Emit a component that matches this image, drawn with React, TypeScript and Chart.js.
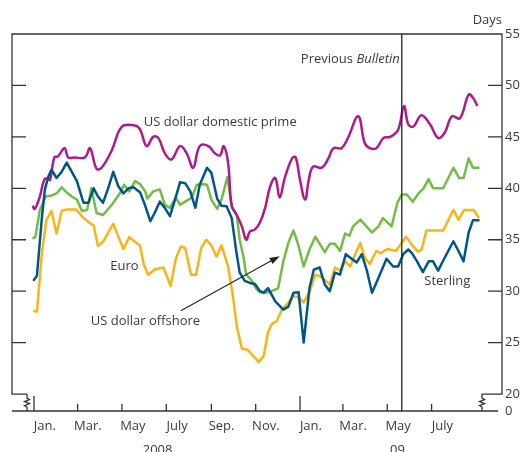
import { useEffect, useRef } from "react";
import { Chart, registerables } from "chart.js";

Chart.register(...registerables);

// x values: days since 1 January 2008
const primeDays = [-2,1,8,14,19,22,28,33,42,47,56,70,77,86,93,107,121,139,146,155,164,171,180,189,201,210,219,228,240,249,256,261,267,272,279,286,292,297,304,311,318,325,332,338,345,355,360,366,373,378,384,396,405,412,423,432,446,455,462,471,481,490,501,509,515,522,533,545,556,565,575,586,598,604,610];
const primeValues = [38.3,38.0,39.2,40.8,41.0,40.8,43.0,43.1,43.9,43.0,43.0,43.0,43.9,41.9,42.0,43.7,46.0,46.1,45.7,44.1,45.0,44.9,43.4,42.8,44.1,43.4,42.0,44.1,44.1,43.4,43.2,44.1,42.5,38.3,37.4,36.3,35.0,35.8,36.0,36.7,38.1,40.2,41.0,39.1,41.0,42.9,43.0,40.8,38.9,40.8,42.1,42.0,42.9,43.9,43.9,44.9,47.0,44.4,43.9,43.9,44.9,45.0,45.7,48.0,46.2,46.0,47.1,46.2,44.9,45.4,47.0,46.8,49.1,48.8,48.0];

const sterlingDays = [-1,4,11,15,20,24,31,38,45,52,59,68,75,82,88,95,102,109,116,123,130,137,146,153,160,166,173,180,187,194,201,208,215,222,228,238,244,252,258,265,272,278,283,290,297,304,311,316,322,332,343,350,357,364,371,379,385,393,400,407,414,421,429,437,444,451,458,465,474,485,494,501,508,515,520,527,535,543,549,556,565,577,584,591,598,604,613];
const sterlingValues = [31.0,31.5,37.3,39.9,41.2,41.8,41.0,41.6,42.5,41.6,40.7,38.6,38.6,40.0,39.2,38.6,40.0,41.6,40.2,39.5,40.0,40.1,39.6,38.3,36.8,37.6,38.7,38.1,37.3,38.9,40.6,40.5,39.7,38.1,40.35,42.0,41.5,39.0,38.3,38.25,37.1,34.0,31.8,31.0,30.8,30.7,30.0,29.85,30.3,29.0,28.2,28.5,29.85,29.9,25.0,30.3,32.1,32.3,30.65,30.0,31.8,31.6,33.6,33.15,32.8,33.6,32.0,29.85,31.3,33.15,32.4,32.4,33.6,34.05,33.7,32.9,31.85,32.9,32.9,32.0,33.25,34.85,33.9,32.9,35.7,36.9,36.9];

const offshoreDays = [-2,2,8,16,24,31,38,45,52,59,66,73,79,86,95,107,118,124,131,139,146,153,156,164,173,180,187,195,201,208,217,224,233,238,244,252,258,266,272,279,283,288,292,300,306,311,318,327,336,343,350,357,364,371,379,387,394,400,407,414,421,428,434,439,449,458,465,474,480,492,500,506,513,521,529,536,543,549,563,577,585,591,598,604,613];
const offshoreValues = [35.1,35.3,37.9,39.2,39.3,39.5,40.1,39.6,39.2,38.9,37.8,37.9,40.0,37.6,37.4,38.4,39.5,40.35,39.7,40.7,40.4,39.7,39.0,39.7,39.9,38.4,38.1,39.1,38.4,38.7,39.1,40.35,40.4,40.35,38.9,38.0,38.9,41.1,38.25,37.4,35.0,33.4,31.6,31.0,30.2,29.9,29.85,30.0,30.3,32.9,34.7,35.9,34.4,32.4,34.05,35.3,34.5,33.8,34.6,34.6,33.9,35.6,35.4,36.3,36.95,36.25,35.7,36.3,37.1,36.3,38.6,39.4,39.4,38.7,39.5,40.0,40.9,40.0,40.0,42.0,41.0,41.0,42.9,42.0,42.0];

const euroDays = [-1,4,11,17,24,31,38,45,58,67,77,82,88,95,102,109,116,123,131,139,146,151,157,166,178,188,195,202,208,216,223,230,237,244,251,258,267,273,279,286,294,303,309,316,322,327,334,341,350,357,364,371,379,387,394,400,407,414,421,428,435,442,449,455,462,471,477,486,493,498,506,512,520,528,533,540,563,577,584,592,605,612];
const euroValues = [28.1,28.0,33.8,36.9,37.8,35.6,37.8,37.95,37.95,37.2,36.6,36.4,34.4,34.8,35.7,36.55,35.3,34.1,35.25,34.8,34.4,32.6,31.6,32.1,32.3,30.5,33.15,34.35,34.2,31.6,31.6,34.2,35.0,34.45,33.35,34.45,32.4,29.85,26.6,24.4,24.3,23.6,23.1,23.7,26.0,26.8,27.1,28.2,28.9,29.5,29.4,28.9,29.9,31.6,31.45,31.1,30.65,32.3,32.0,32.9,32.4,33.6,34.7,33.25,32.65,33.9,33.7,34.1,34.0,33.9,34.7,35.3,34.5,33.85,34.0,35.9,35.9,37.9,36.95,37.9,37.9,37.1];

const yTickValues = [20, 25, 30, 35, 40, 45, 50, 55];
const yBottomLabel = "0";
const yUnitLabel = "Days";
const monthTickDays = [0, 60, 121, 182, 244, 305, 366, 425, 486, 547];
const monthLabels = ["Jan.", "Mar.", "May", "July", "Sep.", "Nov.", "Jan.", "Mar.", "May", "July"];
const monthLabelDays = [15, 74, 136, 197, 258, 319, 381, 439, 501, 562];
const yearStartDays = [0, 366];
const yearLabels = ["2008", "09"];
const yearLabelDays = [170, 500];

const prevBulletinDay = 506;
const prevBulletinValue = 52.5;

const noteTexts = ["US dollar domestic prime", "Euro", "US dollar offshore", "Sterling"];
const noteDays = [151, 105, 78, 537];
const noteValues = [46.45, 32.45, 27.1, 30.95];

const arrowFrom = [202, 28.1];
const arrowTo = [338, 33.4];

const TEXT = "#3a3a3a";
const FONT = '13px "Open Sans"';

function pts(xs: number[], ys: number[]) {
  return xs.map((x, i) => ({ x, y: ys[i] }));
}

const overlay = {
  id: "overlay",
  afterDatasetsDraw(chart: any) {
    const { ctx, chartArea: a, scales } = chart;
    const x = scales.x;
    const y = scales.y;
    const y20 = y.getPixelForValue(20);
    const bottom = a.bottom;
    ctx.save();
    ctx.strokeStyle = "#333";
    ctx.lineWidth = 1.3;
    const lb = a.left + 15;
    const rb = a.right - 20;
    // frame
    ctx.beginPath();
    ctx.moveTo(lb, y20);
    ctx.lineTo(a.left, y20);
    ctx.lineTo(a.left, a.top);
    ctx.lineTo(a.right, a.top);
    ctx.lineTo(a.right, y20);
    ctx.lineTo(rb, y20);
    ctx.stroke();
    const zig = (xx: number) => {
      ctx.beginPath();
      ctx.moveTo(xx, y20);
      ctx.lineTo(xx, y20 + 4);
      ctx.lineTo(xx + 2.5, y20 + 5.5);
      ctx.lineTo(xx - 2.5, y20 + 7.5);
      ctx.lineTo(xx + 2.5, y20 + 9.5);
      ctx.lineTo(xx - 2.5, y20 + 11.5);
      ctx.lineTo(xx, y20 + 13);
      ctx.lineTo(xx, bottom);
      ctx.stroke();
    };
    zig(lb);
    zig(rb);
    // bottom axis
    ctx.beginPath();
    ctx.moveTo(a.left, bottom);
    ctx.lineTo(a.right - 4, bottom);
    ctx.stroke();
    // y ticks
    ctx.beginPath();
    for (const v of yTickValues) {
      if (v === 20 || v === 55) continue;
      const py = y.getPixelForValue(v);
      ctx.moveTo(a.right, py);
      ctx.lineTo(a.right - 14, py);
      ctx.moveTo(a.left, py);
      ctx.lineTo(a.left + 14, py);
    }
    ctx.stroke();
    // x ticks
    ctx.beginPath();
    for (const d of monthTickDays) {
      const px = x.getPixelForValue(d);
      const len = yearStartDays.includes(d) ? 15 : 7;
      ctx.moveTo(px, bottom);
      ctx.lineTo(px, bottom - len);
    }
    ctx.stroke();
    // previous bulletin line
    const pb = x.getPixelForValue(prevBulletinDay);
    ctx.strokeStyle = "#222";
    ctx.beginPath();
    ctx.moveTo(pb, a.top);
    ctx.lineTo(pb, bottom);
    ctx.stroke();

    // text
    ctx.fillStyle = TEXT;
    ctx.font = FONT;
    ctx.textBaseline = "middle";
    ctx.textAlign = "left";
    for (const v of yTickValues) {
      ctx.fillText(String(v), a.right + 3, y.getPixelForValue(v));
    }
    ctx.fillText(yBottomLabel, a.right + 3, bottom);
    ctx.textAlign = "right";
    ctx.fillText(yUnitLabel, a.right, a.top - 14);

    ctx.textAlign = "center";
    ctx.textBaseline = "alphabetic";
    monthLabels.forEach((t, i) => {
      ctx.fillText(t, x.getPixelForValue(monthLabelDays[i]), bottom + 19);
    });
    yearLabels.forEach((t, i) => {
      ctx.fillText(t, x.getPixelForValue(yearLabelDays[i]), bottom + 43);
    });

    ctx.textAlign = "left";
    ctx.textBaseline = "middle";
    noteTexts.forEach((t, i) => {
      ctx.fillText(t, x.getPixelForValue(noteDays[i]), y.getPixelForValue(noteValues[i]));
    });

    // Previous Bulletin label
    const py = y.getPixelForValue(prevBulletinValue);
    ctx.textAlign = "right";
    ctx.font = 'italic 13px "Open Sans"';
    const bw = ctx.measureText("Bulletin").width;
    ctx.fillText("Bulletin", pb - 2, py);
    ctx.font = FONT;
    ctx.fillText("Previous ", pb - 2 - bw, py);

    // arrow
    const x0 = x.getPixelForValue(arrowFrom[0]);
    const y0 = y.getPixelForValue(arrowFrom[1]);
    const x1 = x.getPixelForValue(arrowTo[0]);
    const y1 = y.getPixelForValue(arrowTo[1]);
    const ang = Math.atan2(y1 - y0, x1 - x0);
    ctx.strokeStyle = "#222";
    ctx.lineWidth = 1.1;
    ctx.beginPath();
    ctx.moveTo(x0, y0);
    ctx.lineTo(x1 - 6 * Math.cos(ang), y1 - 6 * Math.sin(ang));
    ctx.stroke();
    ctx.fillStyle = "#222";
    ctx.beginPath();
    ctx.moveTo(x1, y1);
    ctx.lineTo(x1 - 10 * Math.cos(ang) + 3.5 * Math.sin(ang), y1 - 10 * Math.sin(ang) - 3.5 * Math.cos(ang));
    ctx.lineTo(x1 - 10 * Math.cos(ang) - 3.5 * Math.sin(ang), y1 - 10 * Math.sin(ang) + 3.5 * Math.cos(ang));
    ctx.closePath();
    ctx.fill();
    ctx.restore();
  },
};

export default function App() {
  const ref = useRef<HTMLCanvasElement | null>(null);
  useEffect(() => {
    if (!ref.current) return;
    const lineBase = { fill: false, pointRadius: 0, borderWidth: 2.5, borderJoinStyle: "round" as const, tension: 0 };
    const chart = new Chart(ref.current, {
      type: "line",
      data: {
        datasets: [
          { ...lineBase, label: "Sterling", data: pts(sterlingDays, sterlingValues), borderColor: "#00568a", order: 0 },
          { ...lineBase, label: "US dollar domestic prime", data: pts(primeDays, primeValues), borderColor: "#b0198c", tension: 0.4, order: 1 },
          { ...lineBase, label: "US dollar offshore", data: pts(offshoreDays, offshoreValues), borderColor: "#72bd44", order: 2 },
          { ...lineBase, label: "Euro", data: pts(euroDays, euroValues), borderColor: "#fbb316", order: 3 },
        ],
      },
      options: {
        responsive: false,
        animation: false,
        devicePixelRatio: 1,
        layout: { padding: { left: 12, right: 26, top: 34, bottom: 41 } },
        plugins: { legend: { display: false }, tooltip: { enabled: false } },
        scales: {
          x: { type: "linear", min: -30.3, max: 643.9, display: false },
          y: { type: "linear", min: 18.35, max: 55, display: false },
        },
      },
      plugins: [overlay],
    });
    return () => chart.destroy();
  }, []);
  return (
    <div style={{ position: "absolute", left: 0, top: 0, width: 528, height: 452 }}>
      <canvas ref={ref} width={528} height={452} style={{ display: "block" }} />
    </div>
  );
}
